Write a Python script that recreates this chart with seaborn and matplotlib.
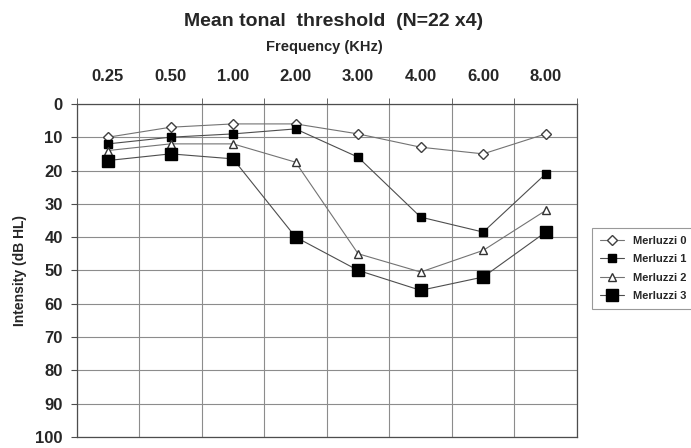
import matplotlib
matplotlib.use("Agg")
import matplotlib.pyplot as plt
import seaborn as sns
import pandas as pd

# audiogram values (dB HL)
freqs = ["0.25", "0.50", "1.00", "2.00", "3.00", "4.00", "6.00", "8.00"]
merluzzi0 = [10, 7, 6, 6, 9, 13, 15, 9]
merluzzi1 = [12, 10, 9, 7.5, 16, 34, 38.5, 21]
merluzzi2 = [14, 12, 12, 17.5, 45, 50.5, 44, 32]
merluzzi3 = [17, 15, 16.5, 40, 50, 56, 52, 38.5]
series_names = ["Merluzzi 0", "Merluzzi 1", "Merluzzi 2", "Merluzzi 3"]
y_ticks = [0, 10, 20, 30, 40, 50, 60, 70, 80, 90, 100]

rows = []
for name, vals in zip(series_names, [merluzzi0, merluzzi1, merluzzi2, merluzzi3]):
    for i, v in enumerate(vals):
        rows.append({"pos": i, "freq": freqs[i], "db": v, "series": name})
df = pd.DataFrame(rows)

sns.set_style("white")
plt.rcParams["font.family"] = ["Liberation Sans", "DejaVu Sans"]

fig = plt.figure(figsize=(6.91, 4.48), dpi=100)
ax = fig.add_axes([0.111, 0.025, 0.724, 0.743])

styles = {
    "Merluzzi 0": dict(marker="D", markersize=5, markerfacecolor="white", markeredgecolor="0.25", color="0.45"),
    "Merluzzi 1": dict(marker="s", markersize=6, markerfacecolor="black", markeredgecolor="black", color="0.3"),
    "Merluzzi 2": dict(marker="^", markersize=6, markerfacecolor="white", markeredgecolor="0.2", color="0.45"),
    "Merluzzi 3": dict(marker="s", markersize=9, markerfacecolor="black", markeredgecolor="black", color="0.3"),
}

for name in series_names:
    sub = df[df["series"] == name]
    sns.lineplot(data=sub, x="pos", y="db", ax=ax, label=name, linewidth=0.8,
                 markeredgewidth=1.0, **styles[name])

ax.set_xlim(-0.5, 7.5)
ax.set_ylim(100, 0)
ax.set_xticks(range(len(freqs)))
ax.set_xticklabels(freqs, fontsize=12, fontweight="bold")
ax.set_xticks([i - 0.5 for i in range(len(freqs) + 1)], minor=True)
ax.xaxis.tick_top()
ax.tick_params(axis="x", which="major", length=0, pad=14)
ax.tick_params(axis="x", which="minor", length=4, color="0.3", top=True, bottom=False)
ax.set_yticks(y_ticks)
ax.set_yticklabels([str(t) for t in y_ticks], fontsize=12, fontweight="bold")
ax.tick_params(axis="y", length=4, color="0.3", left=True, pad=6)

ax.grid(False)
ax.grid(True, which="minor", axis="x", color="0.55", linewidth=0.8)
ax.grid(True, which="major", axis="y", color="0.55", linewidth=0.8)
for sp in ax.spines.values():
    sp.set_color("0.3")
    sp.set_linewidth(0.9)

ax.set_xlabel("")
ax.set_ylabel("Intensity (dB HL)", fontsize=10, fontweight="bold", labelpad=6)

fig.text(0.483, 0.952, "Mean tonal  threshold  (N=22 x4)", ha="center", va="center",
         fontsize=14, fontweight="bold")
fig.text(0.470, 0.895, "Frequency (KHz)", ha="center", va="center",
         fontsize=10.5, fontweight="bold")

ax.legend_.remove()
handles, labels = ax.get_legend_handles_labels()
leg = fig.legend(handles, labels, loc="upper left", bbox_to_anchor=(0.849, 0.503),
                 bbox_transform=fig.transFigure, frameon=True, fancybox=False,
                 prop={"size": 8, "weight": "bold"}, handlelength=2.2,
                 handletextpad=0.8, borderpad=0.7, labelspacing=0.75, edgecolor="0.5")
leg.get_frame().set_linewidth(0.8)

fig.savefig("out.png", dpi=100)
